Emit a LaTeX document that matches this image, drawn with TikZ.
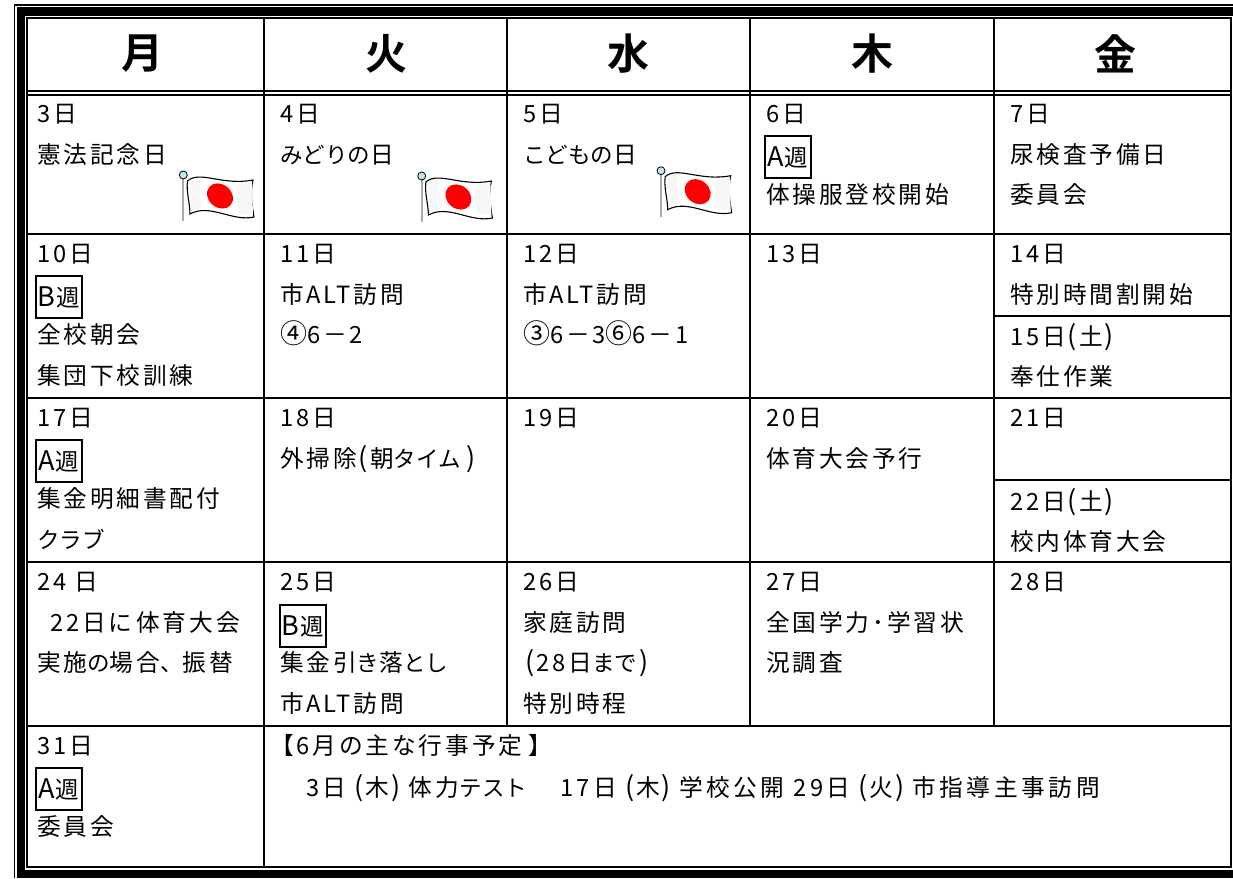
\documentclass[tikz,border=0pt]{standalone}
\usepackage{fontspec}
\setmainfont[LetterSpace=12]{Noto Sans CJK JP}
\newfontfamily\plainjp{Noto Sans CJK JP}
\newfontfamily\headjp[BoldFont={Noto Sans CJK JP Bold}]{Noto Sans CJK JP}
\usepackage{tikz}
\definecolor{polegrey}{RGB}{170,170,170}
\definecolor{ballblue}{RGB}{190,230,245}
\definecolor{flagshade}{RGB}{247,247,247}
% kana and brackets run narrower than the kanji
\newcommand{\kana}[1]{{\plainjp\fontsize{22.5}{40.7}\selectfont #1}}
\newcommand{\maru}[1]{{\plainjp\fontsize{27}{40.7}\selectfont #1}}
\newcommand{\lpar}{\hspace{2pt}\maru{(}\hspace{2pt}}
\newcommand{\rpar}{\hspace{2pt}\maru{)}\hspace{2pt}}
\newcommand{\lparw}{\hspace{8pt}\maru{(}\hspace{2pt}}
\newcommand{\rparw}{\hspace{2pt}\maru{)}\hspace{8pt}}
\newcommand{\weekmark}[1]{{\fontsize{27}{27}\selectfont #1}\hspace{1pt}週}
\tikzset{
  gridline/.style={line width=2pt},
  dayhead/.style={font=\headjp\bfseries\fontsize{42}{46}\selectfont, inner sep=0pt},
  daycell/.style={font=\fontsize{23.7}{40.7}\selectfont, align=left, inner sep=0pt, anchor=north west, execute at begin node=\rule{0pt}{20pt}},
  weekbox/.style={draw, line width=1.6pt, inner sep=0pt, minimum width=46pt, minimum height=42pt, font=\plainjp\fontsize{23.5}{24}\selectfont},
  hinomaru/.pic={
    \draw[polegrey, line width=1.8pt] (183.3,178) -- (183.3,221);
    \draw[black, line width=0.8pt, fill=ballblue] (183.3,175) circle (4pt);
    \draw[line width=1.1pt, fill=white] (187.5,181) .. controls (200,170) and (222,186) .. (253,180)
      .. controls (250,192) and (252,205) .. (254,217) .. controls (232,222) and (210,203) .. (190,214)
      .. controls (190,203) and (186,192) .. (187.5,181) -- cycle;
    \fill[flagshade] (189,181) -- (199,178) -- (201,208) -- (191,212) -- cycle;
    \fill[flagshade] (236,185) -- (252,181) -- (253,215) -- (238,213) -- cycle;
    \fill[red, rotate around={-40:(220,196)}] (220,196) ellipse (14pt and 11.5pt);
  }
}
\begin{document}
\begin{tikzpicture}[x=1pt, y=-1pt]
\useasboundingbox (0,0) rectangle (1233,878);
% outer frame
\fill[black] (16.5,7) rectangle (1233,15.7);
\fill[black] (16.5,7) rectangle (25.2,878);
\fill[black] (16.5,870) rectangle (1233,878);
\draw[line width=1.4pt] (14.5,878) -- (14.5,5) -- (1233,5);
% grid
\draw[gridline] (27,18) rectangle (1231,867);
\draw[gridline] (27,91) -- (1231,91);
\draw[gridline] (27,95) -- (1231,95);
\foreach \ly in {234,398,562,726} \draw[gridline] (27,\ly) -- (1231,\ly);
\foreach \lx in {507,750,994} \draw[gridline] (\lx,18) -- (\lx,726);
\draw[gridline] (264,18) -- (264,867);
\draw[gridline] (994,316) -- (1231,316);
\draw[gridline] (994,480) -- (1231,480);
% header
\foreach \hname/\hx/\htxt in {mon/142/月, tue/386/火, wed/628/水, thu/872/木, fri/1115/金}
  \node[dayhead] (\hname) at (\hx,54) {\htxt};
% days
\foreach \dname/\dx/\dy/\dtxt in {
  d3/37/104/{3日\\憲法記念日},
  d4/280/104/{4日\\\kana{みどりの}日},
  d5/523/104/{5日\\\kana{こどもの}日},
  d6/766/104/{6日\\\mbox{}\\体操服登校開始},
  d7/1010/104/{7日\\尿検査予備日\\委員会},
  d10/37/244/{10日\\\mbox{}\\全校朝会\\集団下校訓練},
  d11/280/244/{11日\\市ALT訪問\\\maru{④}6－2},
  d12/523/244/{12日\\市ALT訪問\\\maru{③}6－3\maru{⑥}6－1},
  d13/766/242/{13日},
  d14/1010/244/{14日\\特別時間割開始},
  d15/1010/323/{15日\lpar 土\rpar\\奉仕作業},
  d17/37/408/{17日\\\mbox{}\\集金明細書配付\\\kana{クラブ}},
  d18/280/408/{18日\\外掃除\lpar 朝\kana{タイム}\hspace{4pt}\rpar},
  d19/523/406/{19日},
  d20/766/408/{20日\\体育大会予行},
  d21/1010/406/{21日},
  d22/1010/488/{22日\lpar 土\rpar\\校内体育大会},
  d24/37/572/{24 日\\\hspace{13pt}22日に\hspace{4pt}体育大会\\実施\kana{の}場合\kana{、}振替},
  d25/280/572/{25日\\\mbox{}\\集金引\kana{き}落\kana{とし}\\市ALT訪問},
  d26/523/572/{26日\\家庭訪問\\\lpar 28日\kana{まで}\rpar\\特別時程},
  d27/766/572/{27日\\全国学力･学習状\\況調査},
  d28/1010/570/{28日},
  d31/37/736/{31日\\\mbox{}\\委員会}}
  \node[daycell] (\dname) at (\dx,\dy) {\dtxt};
% plans for june
\node[daycell] (plans) at (270,734) {【6月の主な行事予定\hspace{6pt}】};
\node[daycell] (plansline) at (306,774) {\addfontfeature{LetterSpace=15}3日\lparw 木\rparw 体力\kana{テスト}\hspace{33pt}17日\lparw 木\rparw 学校公開 29日\lparw 火\rparw 市指導主事訪問};
% week marks
\foreach \wname/\wx/\wy/\wtxt in {wa/788/157/A, wb/59/297/B, wc/59/461/A, wd/303/626/B, we/59/789/A}
  \node[weekbox] (\wname) at (\wx,\wy) {\weekmark{\wtxt}};
% flags
\pic {hinomaru};
\pic[xshift=238.4pt, yshift=-1pt] {hinomaru};
\pic[xshift=477.7pt, yshift=4.3pt] {hinomaru};
\end{tikzpicture}
\end{document}
